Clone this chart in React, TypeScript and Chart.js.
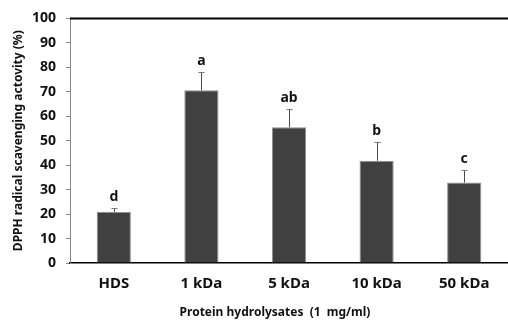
import React, { useEffect, useRef } from "react";
import { Chart, registerables } from "chart.js";

Chart.register(...registerables);

const categories = ["HDS", "1 kDa", "5 kDa", "10 kDa", "50 kDa"];
const values = [20.9, 70.6, 55.5, 41.8, 32.9];
const errors = [1.7, 7.5, 7.6, 7.5, 5.1];
const letters = ["d", "a", "ab", "b", "c"];
const yTicks = [0, 10, 20, 30, 40, 50, 60, 70, 80, 90, 100];
const xTitle = "Protein hydrolysates  (1  mg/ml)";
const yTitle = "DPPH radical scavenging actovity (%)";

const FONT = "'Noto Sans', 'DejaVu Sans', sans-serif";

const overlayPlugin = {
  id: "overlay",
  afterDatasetsDraw(chart: any) {
    const { ctx, chartArea } = chart;
    const meta = chart.getDatasetMeta(0);
    const y = chart.scales.y;
    ctx.save();
    // error bars
    meta.data.forEach((bar: any, i: number) => {
      const x = Math.round(bar.x) + 0.5;
      const yTop = y.getPixelForValue(values[i] + errors[i]);
      const yBase = y.getPixelForValue(values[i]);
      ctx.strokeStyle = "#4a4a4a";
      ctx.lineWidth = 1;
      ctx.beginPath();
      ctx.moveTo(x, yBase);
      ctx.lineTo(x, Math.round(yTop) + 0.5);
      ctx.stroke();
      ctx.strokeStyle = "#777";
      ctx.beginPath();
      ctx.moveTo(x - 3, Math.round(yTop) + 0.5);
      ctx.lineTo(x + 3, Math.round(yTop) + 0.5);
      ctx.stroke();
      ctx.fillStyle = "#111";
      ctx.font = `bold 14px ${FONT}`;
      ctx.textAlign = "center";
      ctx.textBaseline = "alphabetic";
      ctx.fillText(letters[i], bar.x, yTop - 7);
    });
    // top frame line
    ctx.strokeStyle = "#000";
    ctx.lineWidth = 2;
    ctx.beginPath();
    ctx.moveTo(chartArea.left, chartArea.top);
    ctx.lineTo(chart.width, chartArea.top);
    ctx.stroke();
    // x axis title
    ctx.fillStyle = "#111";
    ctx.font = `bold 12px ${FONT}`;
    ctx.textAlign = "center";
    ctx.textBaseline = "middle";
    ctx.fillText(xTitle, 275, 313);
    ctx.restore();
  },
};

export default function App() {
  const ref = useRef<HTMLCanvasElement>(null);
  useEffect(() => {
    if (!ref.current) return;
    const chart = new Chart(ref.current, {
      type: "bar",
      data: {
        labels: categories,
        datasets: [
          {
            data: values,
            backgroundColor: "#404040",
            borderColor: "#8f8f8f",
            borderWidth: 1,
            barPercentage: 0.39,
            categoryPercentage: 1,
          },
        ],
      },
      options: {
        responsive: false,
        animation: false,
        layout: { padding: { top: 18, right: -2, left: 0, bottom: 0 } },
        plugins: { legend: { display: false }, tooltip: { enabled: false } },
        scales: {
          x: {
            grid: { display: false, drawTicks: false },
            border: { display: true, color: "#000", width: 1.5 },
            ticks: {
              color: "#111",
              font: { family: FONT, size: 15, weight: "bold" },
              padding: 12,
            },
            afterFit(scale: any) {
              scale.height = 57;
            },
          },
          y: {
            min: 0,
            max: 100,
            afterBuildTicks(scale: any) {
              scale.ticks = yTicks.map((v) => ({ value: v }));
            },
            grid: {
              drawOnChartArea: false,
              drawTicks: true,
              tickLength: 4,
              color: "#888",
            },
            border: { display: true, color: "#888", width: 1 },
            ticks: {
              color: "#111",
              font: { family: FONT, size: 14, weight: "bold" },
              padding: 10,
            },
            title: {
              display: true,
              text: yTitle,
              color: "#111",
              font: { family: FONT, size: 12, weight: "bold" },
              padding: { top: 11, bottom: 0 },
            },
            afterFit(scale: any) {
              scale.width = 70;
            },
          },
        },
      },
      plugins: [overlayPlugin],
    });
    return () => chart.destroy();
  }, []);
  return (
    <div style={{ position: "absolute", left: 0, top: 0, width: 508, height: 320, background: "#fff" }}>
      <canvas ref={ref} width={508} height={320} />
    </div>
  );
}
